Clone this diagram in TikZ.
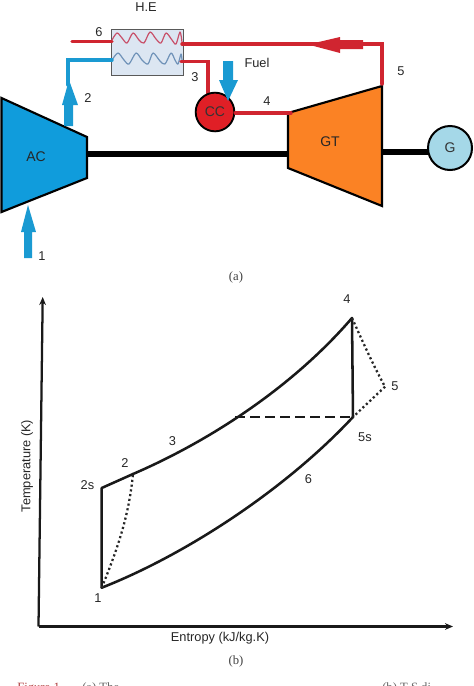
\documentclass[tikz,border=0pt]{standalone}
\usepackage{fontspec}
\setmainfont{Liberation Sans}
\newfontfamily\serifcap{Liberation Serif}
\usetikzlibrary{arrows.meta}
\definecolor{acblue}{HTML}{109CDC}
\definecolor{pipeblue}{HTML}{1A9AD2}
\definecolor{pipered}{HTML}{D02530}
\definecolor{ccred}{HTML}{E01F26}
\definecolor{gtorange}{HTML}{FB8224}
\definecolor{genblue}{HTML}{A5D8E8}
\definecolor{hefill}{HTML}{DCE6F2}
\definecolor{wavered}{HTML}{C8506A}
\definecolor{waveblue}{HTML}{6F92B8}
\definecolor{figred}{HTML}{B04040}
\tikzset{
  lab/.style={font=\fontsize{9.6pt}{11pt}\selectfont,text=black!85,inner sep=0pt},
  capt/.style={font=\serifcap\fontsize{9.5pt}{11pt}\selectfont,text=black!75,inner sep=0pt},
  lastline/.style={font=\serifcap\fontsize{9.5pt}{11pt}\selectfont,text=black!60,inner sep=0pt,anchor=base west},
  redpipe/.style={draw=pipered,line width=2.6pt,line cap=round,line join=miter},
  bluepipe/.style={draw=pipeblue,line width=2.6pt,line cap=round},
  shaftline/.style={draw=black,line width=4.6pt},
  bigarrow/.style={fill=pipeblue,draw=none},
  cyc/.style={draw=black!90,line width=1.9pt,line cap=round,line join=round},
  dots/.style={draw=black!85,line width=1.7pt,dash pattern=on 1.6pt off 2pt},
  axisline/.style={draw=black!90,line width=1.7pt,-{Stealth[length=6pt,width=5pt]}},
  machine/.style={draw=black,line width=1.6pt,line join=miter},
  wave/.style={line width=.9pt,line join=round},
  roundnode/.style={circle,draw=black,inner sep=0pt,font=\fontsize{10.5pt}{12pt}\selectfont,text=black!80}
}
\begin{document}
\begin{tikzpicture}[x=0.75pt,y=-0.75pt]
\useasboundingbox (0,0) rectangle (474,686);
% heat exchanger
\filldraw[fill=hefill,draw=black!65,line width=.7pt] (111.5,29) rectangle (183,75.5);
\draw[wave,draw=wavered,smooth] plot coordinates {(112,40)(117,33)(122,38)(127,43)(133,33)(139,40)(144,43)(150,32)(156,39)(161,43)(166,33)(172,40)(176,44)(180,32)(182,42)};
\draw[wave,draw=waveblue,smooth] plot coordinates {(112,60)(118,53)(124,60)(129,64)(136,53)(142,60)(148,64)(153,53)(160,61)(165,64)(171,53)(175,60)(178,64)(181,54)(182,60)};
% shafts
\draw[shaftline] (87,154) -- (288,154);
\draw[shaftline] (382,152) -- (428,152);
% machines
\filldraw[machine,fill=acblue] (1.5,98) -- (87,137) -- (87,178) -- (1.5,212) -- cycle;
\filldraw[machine,fill=gtorange] (288,113) -- (382,86) -- (382,206) -- (288,168) -- cycle;
% pipes
\coordinate (p6) at (72,41.5);
\coordinate (h6) at (112,41.5);
\coordinate (b2) at (68,85);
\coordinate (b2c) at (68,60);
\coordinate (hb) at (112,60);
\coordinate (h5) at (182,44);
\coordinate (c5) at (382,44);
\coordinate (t5) at (382,84);
\coordinate (h3) at (181,61.5);
\coordinate (c3) at (208,61.5);
\coordinate (t3) at (208,97);
\coordinate (g4) at (291,113);
\draw[redpipe] (p6) -- (h6);
\draw[bluepipe] (b2) -- (b2c) -- (hb);
\draw[redpipe] (h5) -- (c5) -- (t5);
\draw[redpipe] (h3) -- (c3) -- (t3);
% combustor, generator
\node[roundnode,fill=ccred,line width=1.4pt,minimum size=29pt] (cc) at (215,112) {CC};
\draw[redpipe] (cc.east |- g4) -- (g4);
\node[roundnode,fill=genblue,line width=1.5pt,minimum size=33pt] (gen) at (450,148) {G};
% big arrows
\fill[bigarrow] (64,126) -- (64,105) -- (62,105) -- (69,80) -- (78,105) -- (73,105) -- (73,126) -- cycle;
\fill[bigarrow] (223,61) -- (233,61) -- (233,80) -- (238,80) -- (228,101) -- (219,80) -- (223,80) -- cycle;
\fill[bigarrow] (24,258) -- (24,232) -- (21,232) -- (28,205) -- (36,232) -- (32,232) -- (32,258) -- cycle;
\fill[pipered] (363,40) -- (340,40) -- (340,37) -- (308,44.5) -- (340,53) -- (340,49) -- (363,49) -- cycle;
% labels (a)
\node[lab] (lhe) at (146,7) {H.E};
\node[lab] (l6a) at (99,32.5) {6};
\node[lab] (l3a) at (195,77) {3};
\node[lab] (lf) at (257,62.5) {Fuel};
\node[lab] (l5a) at (401,71) {5};
\node[lab] (l2a) at (88,98) {2};
\node[lab] (l4a) at (267,101) {4};
\node[lab,font=\fontsize{10.5pt}{12pt}\selectfont] (lac) at (36,157) {AC};
\node[lab,font=\fontsize{10.5pt}{12pt}\selectfont] (lgt) at (330,142) {GT};
\node[lab] (l1a) at (42,256) {1};
\node[capt] (ca) at (236,277) {(a)};
% axes
\coordinate (o) at (38.5,626.5);
\draw[axisline] (o) -- (42.7,297);
\draw[axisline] (o) -- (453,626.5);
% cycle
\coordinate (s1) at (101.7,587.7);
\coordinate (s2s) at (101.7,488);
\coordinate (s2) at (133,474);
\coordinate (s4) at (352,318);
\coordinate (s5s) at (353,417);
\coordinate (s5) at (385,386.7);
\coordinate (sm) at (235,417);
\draw[cyc] (s1) -- (s2s) -- (s2);
\draw[cyc] (s2) .. controls (205,443) and (290,390) .. (s4);
\draw[cyc] (s4) -- (s5s);
\draw[cyc] (s1) .. controls (185,555) and (285,490) .. (s5s);
\draw[cyc,line cap=butt,dash pattern=on 7.5pt off 3.75pt] (sm) -- (s5s);
\draw[dots] (s1) .. controls (118,548) and (129,515) .. (s2);
\draw[dots] (s4) .. controls (362,340) and (373,365) .. (s5);
\draw[dots] (s5) -- (s5s);
% labels (b)
\node[lab] (l4b) at (347,299.5) {4};
\node[lab] (l5b) at (395,386) {5};
\node[lab] (l5s) at (365,437) {5s};
\node[lab] (l3b) at (172.5,441.5) {3};
\node[lab] (l2b) at (125,463) {2};
\node[lab] (l2s) at (87.5,485) {2s};
\node[lab] (l6b) at (308.5,479) {6};
\node[lab] (l1b) at (98,598.5) {1};
\node[lab] (lx) at (220,638.5) {Entropy (kJ/kg.K)};
\node[lab,rotate=90] (ly) at (27,466) {Temperature (K)};
\node[capt] (cb) at (236,661) {(b)};
% clipped caption line
\begin{scope}
\clip (0,670) rectangle (474,686);
\node[lastline,text=figred] (f1) at (17,691) {Figure 1.};
\node[lastline] (f2) at (82,691) {(a) The};
\node[lastline] (f3) at (382,691) {(b) T-S di};
\end{scope}
\end{tikzpicture}
\end{document}
